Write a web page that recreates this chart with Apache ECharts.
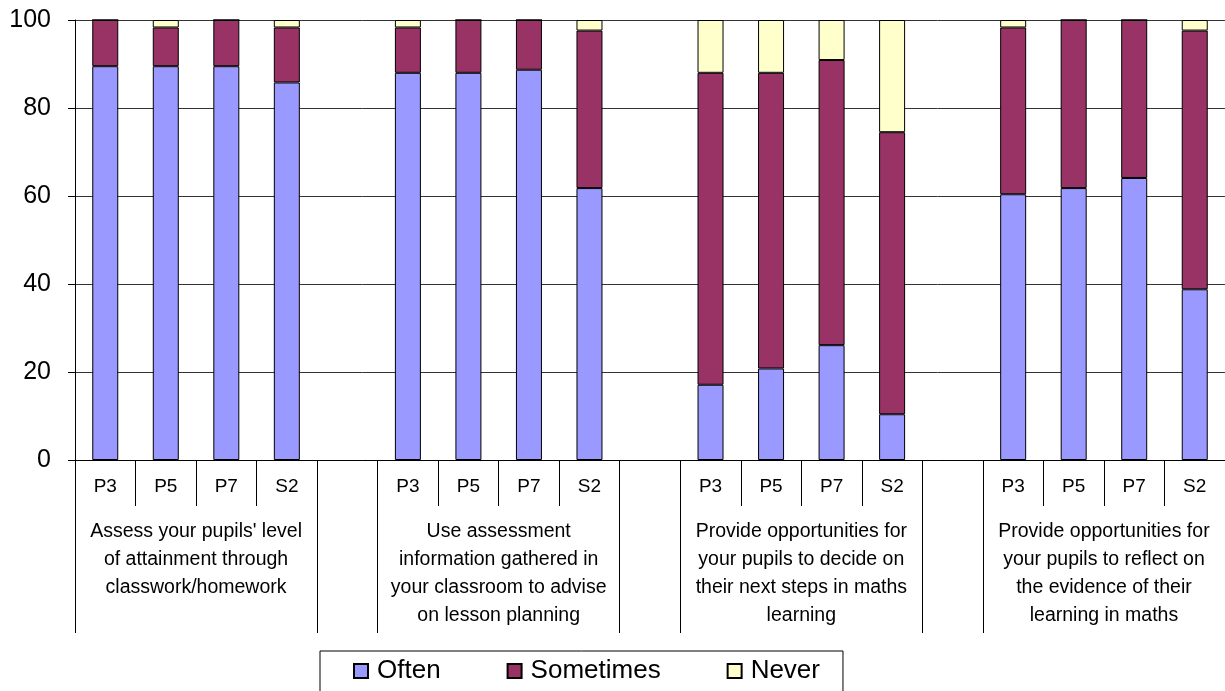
<!DOCTYPE html>
<html>
<head>
<meta charset="utf-8">
<script src="https://cdn.jsdelivr.net/npm/echarts@6/dist/echarts.min.js"></script>
<style>
html,body{margin:0;padding:0;background:#fff;}
#chart{width:1225px;height:691px;}
</style>
</head>
<body>
<div id="chart"></div>
<script>
// Categories (blank slots separate the four statement groups)
const categories = ['P3','P5','P7','S2','', 'P3','P5','P7','S2','', 'P3','P5','P7','S2','', 'P3','P5','P7','S2'];
const groupLabels = [
  "Assess your pupils' level\nof attainment through\nclasswork/homework",
  "Use assessment\ninformation gathered in\nyour classroom to advise\non lesson planning",
  "Provide opportunities for\nyour pupils to decide on\ntheir next steps in maths\nlearning",
  "Provide opportunities for\nyour pupils to reflect on\nthe evidence of their\nlearning in maths"
];
const groupCenters = [2, 7, 12, 17];
const groupBounds = [0, 4, 5, 9, 10, 14, 15, 19];

const often     = [89.5, 89.5, 89.5, 85.8, null, 88.0, 88.0, 88.7, 61.8, null, 17.1, 20.8, 26.1, 10.4, null, 60.4, 61.8, 64.1, 38.8];
const sometimes = [10.5,  8.8, 10.5, 12.5, null, 10.3, 12.0, 11.3, 35.8, null, 70.9, 67.2, 64.8, 64.1, null, 37.9, 38.2, 35.9, 58.8];
const never     = [ 0.0,  1.7,  0.0,  1.7, null,  1.7,  0.0,  0.0,  2.4, null, 12.0, 12.0,  9.1, 25.5, null,  1.7,  0.0,  0.0,  2.4];

const yTicks = [0, 20, 40, 60, 80, 100];

const FONT = "'Liberation Sans', Arial, sans-serif";
const chart = echarts.init(document.getElementById('chart'), null, {renderer: 'canvas'});

function barSeries(name, data, color) {
  return {
    name: name,
    type: 'bar',
    stack: 'total',
    data: data,
    barWidth: 26,
    xAxisIndex: 0,
    itemStyle: {color: color, borderColor: '#000', borderWidth: 1},
    emphasis: {disabled: true}
  };
}

chart.setOption({
  animation: false,
  backgroundColor: '#fff',
  textStyle: {fontFamily: FONT, color: '#000'},
  grid: {left: 75, right: 0, top: 20, bottom: 231, containLabel: false},
  legend: {
    data: ['Often', 'Sometimes', 'Never'],
    left: 320,
    top: 651,
    padding: [7, 23, 8, 33],
    itemGap: 66,
    itemWidth: 14,
    itemHeight: 14,
    icon: 'rect',
    borderColor: '#000',
    borderWidth: 1,
    textStyle: {fontFamily: FONT, fontSize: 26, color: '#000', padding: [0, 0, 0, 4]}
  },
  xAxis: [
    {
      type: 'category',
      data: categories,
      position: 'bottom',
      boundaryGap: true,
      axisLine: {show: true, lineStyle: {color: '#000', width: 1}},
      axisTick: {show: true, length: 46, interval: 0, lineStyle: {color: '#000'}},
      axisLabel: {interval: 0, margin: 17, fontSize: 19, color: '#000', fontFamily: FONT},
      splitLine: {show: false}
    },
    {
      type: 'value',
      min: 0,
      max: 19,
      position: 'bottom',
      offset: 0,
      axisLine: {show: false},
      axisTick: {show: true, length: 173, customValues: groupBounds, lineStyle: {color: '#000'}},
      axisLabel: {
        show: true,
        customValues: groupCenters,
        margin: 58,
        verticalAlign: 'top',
        lineHeight: 28,
        fontSize: 19.5,
        color: '#000',
        fontFamily: FONT,
        formatter: function (v) {
          const i = groupCenters.indexOf(v);
          return i >= 0 ? groupLabels[i] : '';
        }
      },
      splitLine: {show: false}
    }
  ],
  yAxis: {
    type: 'value',
    min: 0,
    max: 100,
    interval: 20,
    axisLine: {show: true, lineStyle: {color: '#000'}},
    axisTick: {show: true, length: 7, lineStyle: {color: '#000'}},
    axisLabel: {fontSize: 25, color: '#000', margin: 24, fontFamily: FONT,
      formatter: function (v) { return yTicks.indexOf(v) >= 0 ? String(v) : ''; }},
    splitLine: {show: true, lineStyle: {color: '#333', width: 1}}
  },
  series: [
    barSeries('Often', often, '#9999FF'),
    barSeries('Sometimes', sometimes, '#993366'),
    barSeries('Never', never, '#FFFFCC')
  ]
});
</script>
</body>
</html>
